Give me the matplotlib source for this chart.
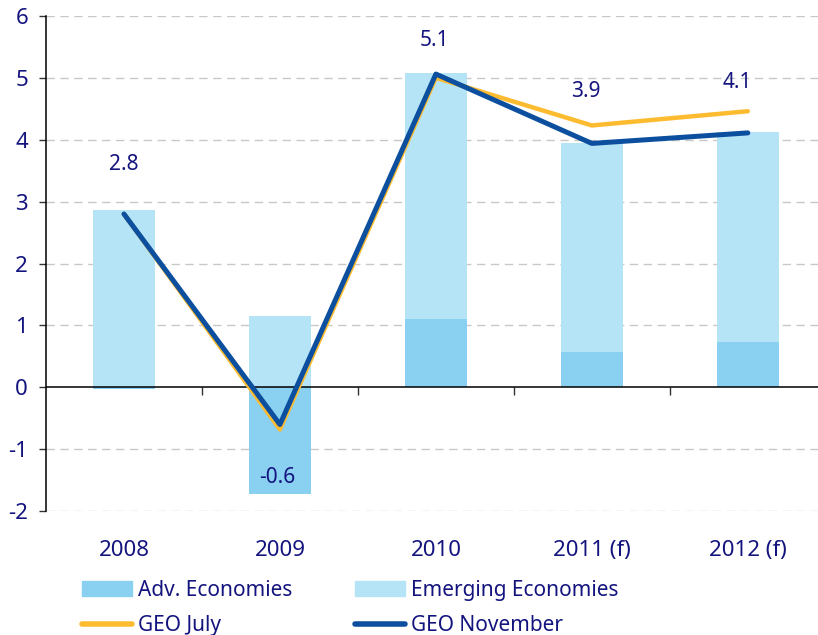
import numpy as np
import matplotlib
matplotlib.use('Agg')
import matplotlib.pyplot as plt
from matplotlib.patches import Patch
from matplotlib.lines import Line2D

plt.rcParams['font.family'] = ['Noto Sans', 'DejaVu Sans']

# data
years = ['2008', '2009', '2010', '2011 (f)', '2012 (f)']
adv = [-0.03, -1.73, 1.11, 0.57, 0.74]          # advanced economies contribution
emerging = [2.87, 1.15, 3.96, 3.37, 3.38]       # emerging economies contribution
geo_july = [2.8, -0.68, 5.0, 4.23, 4.46]
geo_nov = [2.8, -0.6, 5.06, 3.94, 4.11]
value_labels = ['2.8', '-0.6', '5.1', '3.9', '4.1']
label_y = [3.6, -1.45, 5.6, 4.78, 4.93]
label_dx = [0.0, -0.02, -0.01, -0.04, -0.07]

navy = '#14147f'
c_adv = '#8ad0f0'
c_emg = '#b5e4f7'
c_july = '#fdbb30'
c_nov = '#0b4f9e'

fig = plt.figure(figsize=(8.18, 6.35), dpi=100)
ax = fig.add_axes([0.0562, 0.195, 0.9438, 0.78])

x = np.arange(len(years))
w = 0.4
adv = np.array(adv)
bottom_emg = np.clip(adv, 0, None)
ax.bar(x, adv, w, color=c_adv, zorder=2)
ax.bar(x, emerging, w, bottom=bottom_emg, color=c_emg, zorder=2)

ax.plot(x, geo_july, color=c_july, lw=3.2, solid_capstyle='round', zorder=3)
ax.plot(x, geo_nov, color=c_nov, lw=3.6, solid_capstyle='round', zorder=4)

for i, t in enumerate(value_labels):
    ax.text(x[i] + label_dx[i], label_y[i], t, ha='center', va='center',
            fontsize=15, color=navy, zorder=5)

ax.set_xlim(-0.5, 4.45)
ax.set_ylim(-2, 6)
ax.set_yticks(range(-2, 7))
ax.set_yticklabels([str(v) for v in range(-2, 7)], fontsize=16, color=navy)
ax.tick_params(axis='y', length=5, width=1, color='#333333', pad=8)

for v in [-2, -1, 1, 2, 3, 4, 5, 6]:
    ax.axhline(v, color='#c8c8c8', lw=1, ls=(0, (6, 4)), zorder=1)
ax.axhline(0, color='black', lw=1.1, zorder=2.5)

ax.set_xticks(x)
ax.set_xticklabels(years, fontsize=16, color=navy)
ax.tick_params(axis='x', length=0, pad=21)

for s in ['top', 'right', 'bottom']:
    ax.spines[s].set_visible(False)
ax.spines['left'].set_color('black')
ax.spines['left'].set_linewidth(1.1)

# small ticks on the zero line between categories
sec = ax.secondary_xaxis(0.25)
sec.spines['bottom'].set_visible(False)
sec.set_xticks(x[:-1] + 0.5)
sec.set_xticklabels([])
sec.tick_params(axis='x', length=6, width=1, color='#333333', direction='out')

handles = [Patch(color=c_adv), Line2D([], [], color=c_july, lw=4, solid_capstyle='round'),
           Patch(color=c_emg), Line2D([], [], color=c_nov, lw=4, solid_capstyle='round')]
names = ['Adv. Economies', 'GEO July', 'Emerging Economies', 'GEO November']
leg = fig.legend(handles, names, ncol=2, loc='upper left', bbox_to_anchor=(0.09, 0.1),
                 frameon=False, fontsize=15,
                 handlelength=2.4, handleheight=0.72,
                 handletextpad=0.3, columnspacing=3.0, labelspacing=0.7, borderaxespad=0)
for t in leg.get_texts():
    t.set_color(navy)

fig.savefig('out.png', dpi=100)
